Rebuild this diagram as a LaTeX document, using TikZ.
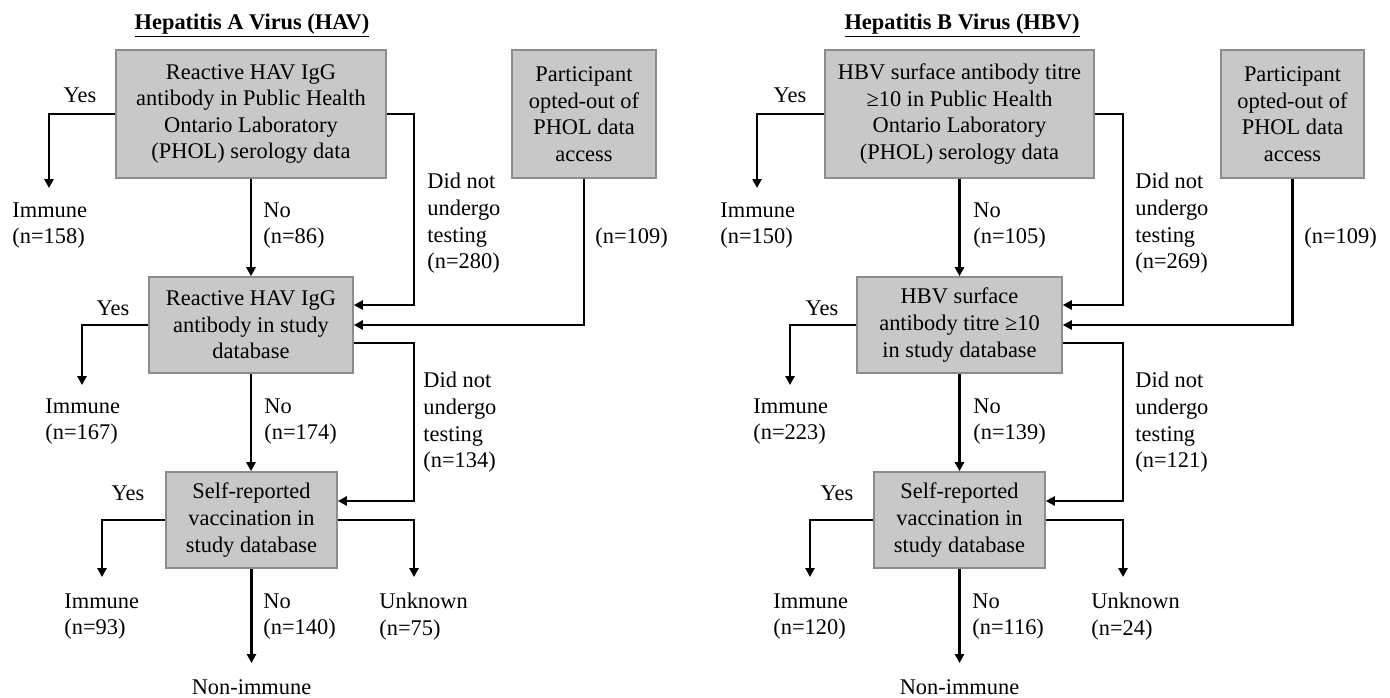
\documentclass[tikz,border=0pt]{standalone}
\usepackage{fontspec}
\setmainfont{Liberation Serif}
\usetikzlibrary{arrows.meta}
\definecolor{boxfill}{RGB}{200,200,200}
\definecolor{boxline}{RGB}{140,140,140}
\begin{document}
\begin{tikzpicture}[x=0.5pt,y=-0.5pt,
 every node/.style={font=\fontsize{11.2}{13.3}\selectfont, inner sep=0pt},
 box/.style={draw=boxline, fill=boxfill, line width=0.85pt, align=center},
 lbl/.style={align=left, anchor=north west},
 one/.style={anchor=base},
 arr/.style={line width=1.05pt, -{Triangle[length=4.5pt,width=4.6pt]}},
 ttl/.style={font=\fontsize{11.2}{13.3}\selectfont\bfseries, anchor=base}]
\useasboundingbox (0,0) rectangle (1390,697);

% ---------------- HAV ----------------
\node[ttl] (ta) at (252,29) {\underline{Hepatitis A Virus (HAV)}};
\node[box, minimum width=135pt, minimum height=64pt] (a1) at (251,114)
  {Reactive HAV IgG\\antibody in Public Health\\Ontario Laboratory\\(PHOL) serology data};
\node[box, minimum width=72pt, minimum height=64pt] (ao) at (584,114)
  {Participant\\opted-out of\\PHOL data\\access};
\node[box, minimum width=102pt, minimum height=48pt] (a2) at (251,325)
  {Reactive HAV IgG\\antibody in study\\database};
\node[box, minimum width=85.5pt, minimum height=48pt] (a3) at (251.5,520)
  {Self-reported\\vaccination in\\study database};

\coordinate (a1yes) at (49,188);
\coordinate (a1r) at (414,305);
\coordinate (a2yes) at (82,385);
\coordinate (a2r) at (414,501);
\coordinate (a3yes) at (102,577);
\coordinate (a3unk) at (414,577);
\coordinate (a3no) at (251.5,663);

\draw[arr] (a1.west) -| (a1yes);
\draw[arr] (a1.south) -- (a2.north);
\draw[arr] (a1.east) -| (a1r) -- (a1r -| a2.east);
\draw[arr] (ao.south) |- (a2.east);
\draw[arr] (a2.west) -| (a2yes);
\draw[arr] (a2.south) -- (a2.south |- a3.north);
\draw[arr] ([yshift=-9pt]a2.east) -| (a2r) -- (a2r -| a3.east);
\draw[arr] (a3.west) -| (a3yes);
\draw[arr] (a3.east) -| (a3unk);
\draw[arr] (a3.south) -- (a3no);

\node[one] (ay1) at (80,102) {Yes};
\node[lbl] (ai1) at (12,202) {Immune\\(n=158)};
\node[lbl] (an1) at (263,202) {No\\(n=86)};
\node[lbl] (ad1) at (427,173) {Did not\\undergo\\testing\\(n=280)};
\node[one, anchor=base west] (ao1) at (595,243) {(n=109)};
\node[one] (ay2) at (113,315) {Yes};
\node[lbl] (ai2) at (45,398) {Immune\\(n=167)};
\node[lbl] (an2) at (264,398) {No\\(n=174)};
\node[lbl] (ad2) at (423,372) {Did not\\undergo\\testing\\(n=134)};
\node[one] (ay3) at (128,500) {Yes};
\node[lbl] (ai3) at (64,593) {Immune\\(n=93)};
\node[lbl] (an3) at (263,593) {No\\(n=140)};
\node[lbl] (au3) at (379,593) {Unknown\\(n=75)};
\node[one] (anon) at (251.5,694) {Non-immune};

% ---------------- HBV ----------------
\node[ttl] (tb) at (962,29) {\underline{Hepatitis B Virus (HBV)}};
\node[box, minimum width=134.5pt, minimum height=64pt] (b1) at (959.5,114)
  {HBV surface antibody titre\\≥10 in Public Health\\Ontario Laboratory\\(PHOL) serology data};
\node[box, minimum width=71.5pt, minimum height=64pt] (bo) at (1292.5,114)
  {Participant\\opted-out of\\PHOL data\\access};
\node[box, minimum width=102.5pt, minimum height=48pt] (b2) at (959.5,325)
  {HBV surface\\antibody titre ≥10\\in study database};
\node[box, minimum width=85.5pt, minimum height=48pt] (b3) at (959.5,520)
  {Self-reported\\vaccination in\\study database};

\coordinate (b1yes) at (757,188);
\coordinate (b1r) at (1123,305);
\coordinate (b2yes) at (790,385);
\coordinate (b2r) at (1123,501);
\coordinate (b3yes) at (810,577);
\coordinate (b3unk) at (1123,577);
\coordinate (b3no) at (959.5,663);

\draw[arr] (b1.west) -| (b1yes);
\draw[arr] (b1.south) -- (b2.north);
\draw[arr] (b1.east) -| (b1r) -- (b1r -| b2.east);
\draw[arr] (bo.south) |- (b2.east);
\draw[arr] (b2.west) -| (b2yes);
\draw[arr] (b2.south) -- (b3.north);
\draw[arr] ([yshift=-9pt]b2.east) -| (b2r) -- (b2r -| b3.east);
\draw[arr] (b3.west) -| (b3yes);
\draw[arr] (b3.east) -| (b3unk);
\draw[arr] (b3.south) -- (b3no);

\node[one] (by1) at (790,102) {Yes};
\node[lbl] (bi1) at (720,202) {Immune\\(n=150)};
\node[lbl] (bn1) at (973,202) {No\\(n=105)};
\node[lbl] (bd1) at (1135,173) {Did not\\undergo\\testing\\(n=269)};
\node[one, anchor=base west] (bo1) at (1304,243) {(n=109)};
\node[one] (by2) at (822,315) {Yes};
\node[lbl] (bi2) at (753,398) {Immune\\(n=223)};
\node[lbl] (bn2) at (973,398) {No\\(n=139)};
\node[lbl] (bd2) at (1135,372) {Did not\\undergo\\testing\\(n=121)};
\node[one] (by3) at (837,500) {Yes};
\node[lbl] (bi3) at (773,593) {Immune\\(n=120)};
\node[lbl] (bn3) at (972,593) {No\\(n=116)};
\node[lbl] (bu3) at (1091,593) {Unknown\\(n=24)};
\node[one] (bnon) at (959.5,694) {Non-immune};
\end{tikzpicture}
\end{document}
